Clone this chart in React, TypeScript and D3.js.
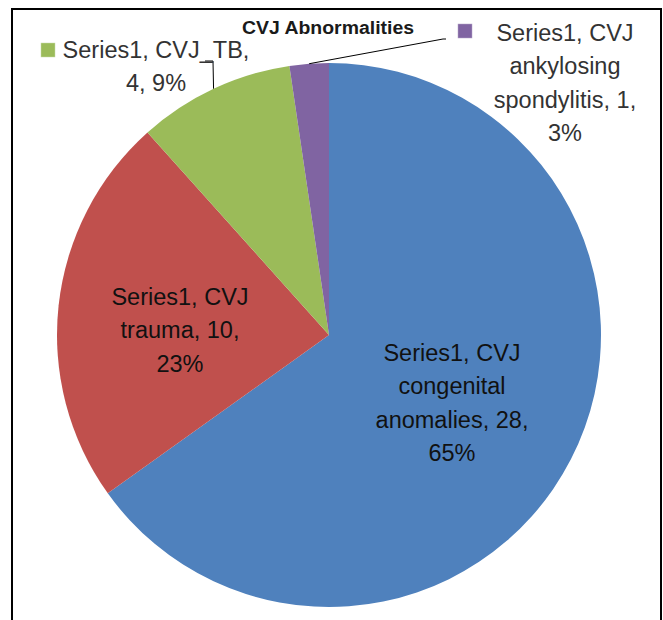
import React from "react";
import * as d3 from "d3";

// data
const categories = [
  "CVJ congenital anomalies",
  "CVJ trauma",
  "CVJ TB",
  "CVJ ankylosing spondylitis",
];
const values = [28, 10, 4, 1];
const seriesName = "Series1";
const title = "CVJ Abnormalities";
const colors = ["#4F81BD", "#C0504D", "#9BBB59", "#8064A2"];

// label line breaks as laid out in the picture
const labelLines = [
  ["Series1, CVJ", "congenital", "anomalies, 28,", "65%"],
  ["Series1, CVJ", "trauma, 10,", "23%"],
  ["Series1, CVJ_TB,", "4, 9%"],
  ["Series1, CVJ", "ankylosing", "spondylitis, 1,", "3%"],
];

const W = 663;
const H = 620;

export default function App() {
  React.useEffect(() => {
    document.body.style.margin = "0";
  }, []);

  const cx = 329;
  const cy = 335;
  const r = 272;
  const lineH = 33.3;
  const font = "'Liberation Sans', Arial, sans-serif";

  const pie = d3.pie<number>().sort(null).value((d) => d);
  const arcs = pie(values);
  const arc = d3.arc<d3.PieArcDatum<number>>().innerRadius(0).outerRadius(r);

  // label anchors (center x, first line center y)
  const labelPos = [
    { x: 452, y: 353, inside: true },
    { x: 180, y: 297, inside: true },
    { x: 156, y: 50, inside: false },
    { x: 565, y: 33, inside: false },
  ];

  const edgePoint = (a: d3.PieArcDatum<number>) => {
    const mid = (a.startAngle + a.endAngle) / 2;
    return [cx + r * Math.sin(mid), cy - r * Math.cos(mid)];
  };

  const gEdge = edgePoint(arcs[2]);
  const pEdge = edgePoint(arcs[3]);

  return (
    <svg width={W} height={H} style={{ display: "block", background: "#fff" }}>
      <path d={`M12,${H + 2} V9 H661 V${H + 2}`} fill="none" stroke="#000" strokeWidth={2} />

      <g transform={`translate(${cx},${cy})`}>
        {arcs.map((a, i) => (
          <path key={categories[i]} d={arc(a) || ""} fill={colors[i]} />
        ))}
      </g>

      {/* leader lines */}
      <polyline
        points={`205,61 213,61 ${gEdge[0]},${gEdge[1]}`}
        fill="none"
        stroke="#000"
        strokeWidth={1}
      />
      <polyline
        points={`${pEdge[0]},${pEdge[1]} 443,39 446,39`}
        fill="none"
        stroke="#000"
        strokeWidth={1}
      />

      <text
        x={328}
        y={34}
        textAnchor="middle"
        fontFamily={font}
        fontWeight="bold"
        fontSize={18}
        textLength={172}
        lengthAdjust="spacingAndGlyphs"
        fill="#1a1a1a"
      >
        {title}
      </text>

      {labelLines.map((lines, i) => {
        const p = labelPos[i];
        return (
          <g key={i} fontFamily={font} fontSize={23.5} fill={p.inside ? "#111" : "#333"}>
            {lines.map((ln, j) => (
              <text key={j} x={p.x} y={p.y + j * lineH + 8} textAnchor="middle">
                {ln}
              </text>
            ))}
          </g>
        );
      })}

      {/* legend keys of the outside labels */}
      <rect x={41} y={43} width={14} height={14} fill={colors[2]} stroke="#c8dcaa" strokeWidth={0.5} />
      <rect x={458} y={24} width={14} height={14} fill={colors[3]} stroke="#b4a4c8" strokeWidth={0.5} />
      <desc>{seriesName}</desc>
    </svg>
  );
}
